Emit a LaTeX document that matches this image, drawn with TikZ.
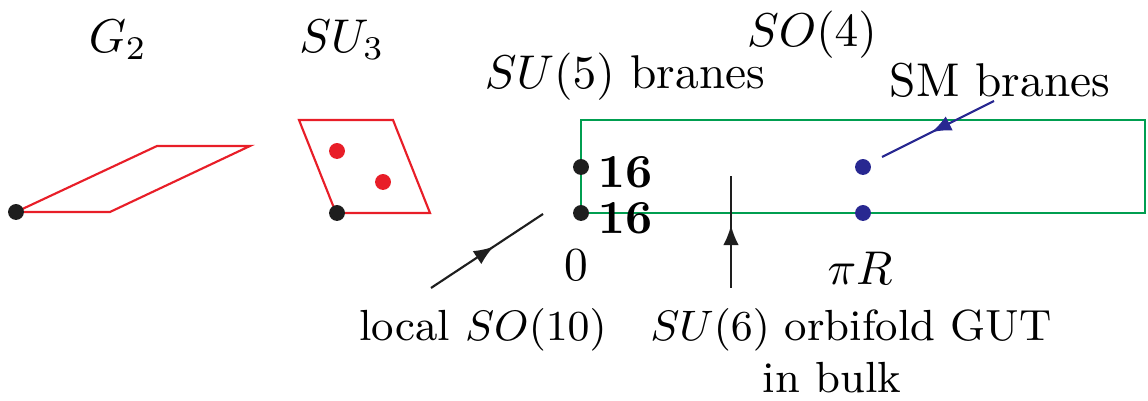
\documentclass[tikz,border=0pt]{standalone}
\usetikzlibrary{decorations.markings,arrows.meta}
\definecolor{orbred}{RGB}{232,30,40}
\definecolor{orbgreen}{RGB}{0,158,80}
\definecolor{orbblue}{RGB}{40,40,145}
\definecolor{orbblack}{RGB}{30,30,30}
\tikzset{
  fixpt/.style={circle,fill=#1,inner sep=0pt,minimum size=0.118cm},
  midarrow/.style={postaction={decorate},decoration={markings,
    mark=at position 0.56 with {\arrow{Latex[length=4.2pt,width=3.3pt]}}}},
  smalltext/.style={font=\fontsize{9.2pt}{11pt}\selectfont}
}
\begin{document}
\begin{tikzpicture}[x=0.742cm,y=0.742cm,font=\normalsize,line width=0.45pt]
\useasboundingbox (0,0) rectangle (11.48,4.01);
% labels on top
\node (g2) at (1.18,3.61) {$G_2$};
\node (su3) at (3.42,3.61) {$SU_3$};
\node (so4) at (8.12,3.66) {$SO(4)$};
\node (su5) at (6.25,3.24) {$SU(5)$ branes};
\node (sm) at (10.00,3.21) {SM branes};
% fundamental domains
\draw[orbred] (0.16,1.89) -- (1.10,1.89) -- (2.50,2.55) -- (1.57,2.55) -- cycle;
\draw[orbred] (3.36,1.88) -- (4.30,1.88) -- (3.93,2.81) -- (2.99,2.81) -- cycle;
\node[fixpt=orbred] (r1) at (3.37,2.50) {};
\node[fixpt=orbred] (r2) at (3.83,2.19) {};
\node[fixpt=orbblack] (o1) at (0.16,1.89) {};
\node[fixpt=orbblack] (o2) at (3.37,1.88) {};
% the interval
\draw[orbgreen] (5.81,1.88) rectangle (11.45,2.81);
\node[fixpt=orbblack] (top0) at (5.81,2.34) {};
\node[fixpt=orbblack] (bot0) at (5.81,1.88) {};
\node[fixpt=orbblue] (toppi) at (8.63,2.34) {};
\node[fixpt=orbblue] (botpi) at (8.63,1.88) {};
\node (n1) at (6.25,2.29) {$\mathbf{16}$};
\node (n2) at (6.25,1.83) {$\mathbf{16}$};
\node (zero) at (5.76,1.36) {$0$};
\node (pir) at (8.60,1.33) {$\pi R$};
% arrows
\coordinate (smtail) at (9.94,3.00);
\coordinate (smhead) at (8.82,2.44);
\draw[orbblue,midarrow] (smtail) -- (smhead);
\coordinate (loctail) at (4.31,1.13);
\coordinate (lochead) at (5.43,1.87);
\draw[orbblack,midarrow] (loctail) -- (lochead);
\coordinate (bulktail) at (7.31,1.13);
\coordinate (bulkhead) at (7.31,2.25);
\draw[orbblack,midarrow] (bulktail) -- (bulkhead);
% bottom labels
\node[smalltext] (loc) at (4.83,0.71) {local $SO(10)$};
\node[smalltext] (gut) at (8.51,0.71) {$SU(6)$ orbifold GUT};
\node[smalltext] (bulk) at (8.32,0.23) {in bulk};
\end{tikzpicture}
\end{document}
